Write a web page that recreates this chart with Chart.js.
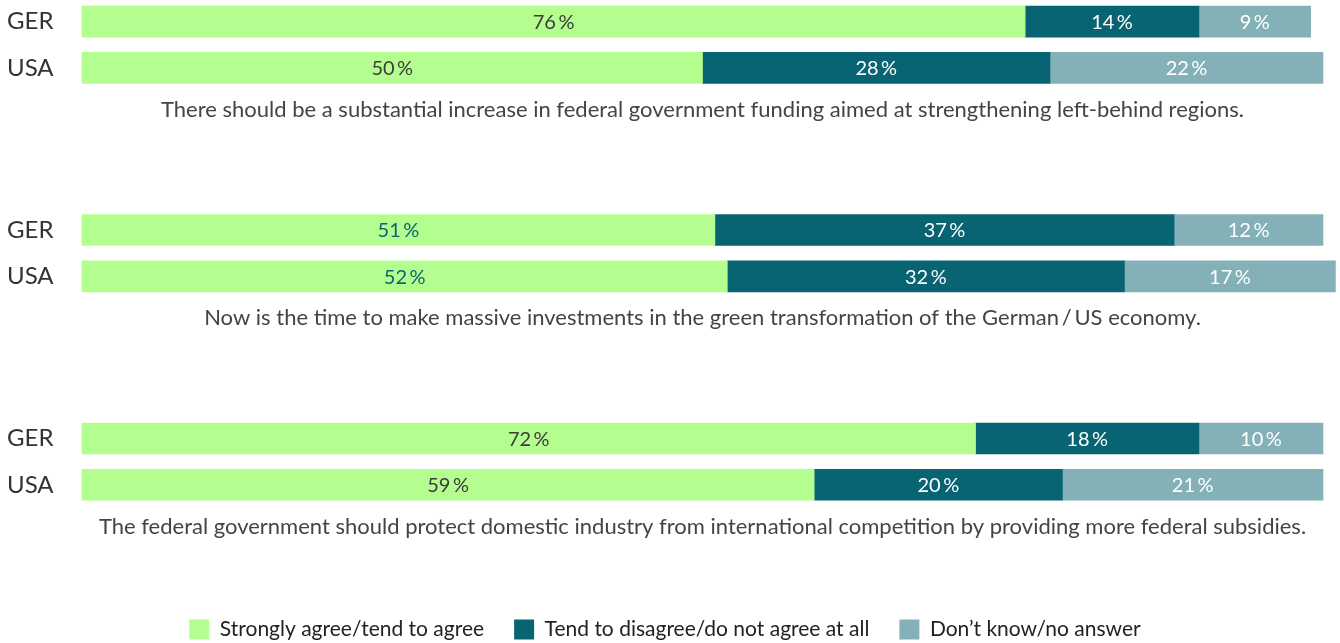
<!DOCTYPE html>
<html>
<head>
<meta charset="utf-8">
<script src="https://cdn.jsdelivr.net/npm/chart.js@4"></script>
<style>
  html, body { margin: 0; padding: 0; background: #fff; }
  #wrap { width: 1340px; height: 643px; }
</style>
</head>
<body>
<div id="wrap"><canvas id="surveyChart"></canvas></div>
<script>
const countries = ['GER', 'USA'];
const statements = [
  'There should be a substantial increase in federal government funding aimed at strengthening left-behind regions.',
  'Now is the time to make massive investments in the green transformation of the German\u2009/\u2009US economy.',
  'The federal government should protect domestic industry from international competition by providing more federal subsidies.'
];
const answers = ['Strongly agree/tend to agree', 'Tend to disagree/do not agree at all', 'Don\u2019t know/no answer'];
// GER, USA for each statement in turn
const agree = [76, 50, 51, 52, 72, 59];
const disagree = [14, 28, 37, 32, 18, 20];
const dontKnow = [9, 22, 12, 17, 10, 21];

const FONT = 'Lato';

// each statement gets 9 category slots: GER, gap, USA, then room for the statement text
const rowSlot = (g, c) => g * 9 + c * 2;
const slotCount = 25;

const yLabels = new Array(slotCount).fill('');
statements.forEach((s, g) => countries.forEach((c, i) => { yLabels[rowSlot(g, i)] = c; }));

function spread(values) {
  const out = new Array(slotCount).fill(null);
  values.forEach((v, k) => { out[rowSlot(Math.floor(k / 2), k % 2)] = v; });
  return out;
}

// percentage text in the middle of each bar segment
const valueLabels = {
  id: 'valueLabels',
  afterDatasetsDraw(chart) {
    const ctx = chart.ctx;
    ctx.save();
    ctx.font = '20px ' + FONT;
    ctx.textAlign = 'center';
    ctx.textBaseline = 'middle';
    chart.data.datasets.forEach((ds, i) => {
      chart.getDatasetMeta(i).data.forEach((bar, j) => {
        const v = ds.data[j];
        if (v == null) return;
        ctx.fillStyle = typeof ds.valueColor === 'function' ? ds.valueColor(j) : ds.valueColor;
        ctx.fillText(v + '\u2009%', (bar.x + bar.base) / 2, bar.y + 1);
      });
    });
    ctx.restore();
  }
};

// statement text under each GER/USA pair
const statementText = {
  id: 'statementText',
  afterDraw(chart) {
    const ctx = chart.ctx;
    const area = chart.chartArea;
    const y = chart.scales.y;
    ctx.save();
    ctx.font = '22px ' + FONT;
    ctx.fillStyle = '#444';
    ctx.textAlign = 'center';
    ctx.textBaseline = 'middle';
    statements.forEach((s, g) => {
      ctx.fillText(s, (area.left + area.right) / 2, y.getPixelForValue(rowSlot(g, 1)) + 42);
    });
    ctx.restore();
  }
};

new Chart(document.getElementById('surveyChart'), {
  type: 'bar',
  data: {
    labels: yLabels,
    datasets: [
      {
        label: answers[0],
        data: spread(agree),
        backgroundColor: '#b3fe8f',
        valueColor: j => (Math.floor(j / 9) === 1 ? '#0b6472' : '#3c3c3c')
      },
      {
        label: answers[1],
        data: spread(disagree),
        backgroundColor: '#086373',
        valueColor: '#ffffff'
      },
      {
        label: answers[2],
        data: spread(dontKnow),
        backgroundColor: '#84b1b8',
        valueColor: '#ffffff'
      }
    ]
  },
  options: {
    indexAxis: 'y',
    responsive: true,
    maintainAspectRatio: false,
    animation: false,
    layout: { padding: { left: 7, right: 17, top: 10, bottom: -7 } },
    datasets: {
      bar: { barThickness: 31, borderWidth: 0, clip: false }
    },
    scales: {
      x: { stacked: true, min: 0, max: 100, display: false },
      y: {
        stacked: true,
        grid: { display: false },
        border: { display: false },
        ticks: {
          autoSkip: false,
          crossAlign: 'far',
          padding: 0,
          color: '#333',
          font: { family: FONT, size: 24, lineHeight: 0.8 }
        },
        afterFit(scale) { scale.width = 75; }
      }
    },
    plugins: {
      tooltip: { enabled: false },
      legend: {
        position: 'bottom',
        labels: {
          boxWidth: 20,
          boxHeight: 20,
          padding: 30,
          color: '#222',
          font: { family: FONT, size: 21 }
        }
      }
    }
  },
  plugins: [valueLabels, statementText]
});
</script>
</body>
</html>
